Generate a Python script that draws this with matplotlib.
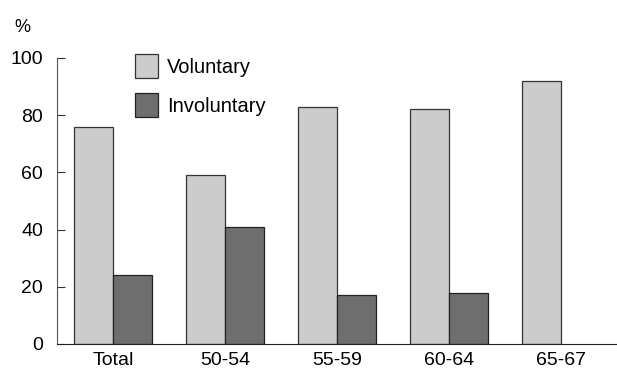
import matplotlib.pyplot as plt
import numpy as np

categories = ["Total", "50-54", "55-59", "60-64", "65-67"]
voluntary = [76, 59, 83, 82, 92]
involuntary = [24, 41, 17, 18, None]

plt.rcParams['font.family'] = ['Liberation Sans', 'DejaVu Sans']

fig = plt.figure(figsize=(6.17, 3.73), dpi=100)
ax = fig.add_axes([57/617, 1-344/373, 1-57/617, (344-58)/373])

x = np.arange(len(categories))
w = 0.35
vol = ax.bar(x - w/2, voluntary, w, color="#cccccc", edgecolor="#333333", linewidth=0.9, label="Voluntary")
inv_x = [xi for xi, v in zip(x, involuntary) if v is not None]
inv_v = [v for v in involuntary if v is not None]
inv = ax.bar(np.array(inv_x) + w/2, inv_v, w, color="#6e6e6e", edgecolor="#222222", linewidth=0.9, label="Involuntary")

ax.set_xlim(-0.5, 4.5)
ax.set_ylim(0, 100)
ax.set_yticks([0, 20, 40, 60, 80, 100])
ax.set_xticks(x)
ax.set_xticklabels(categories)
ax.tick_params(axis='x', length=0, pad=6, labelsize=14)
ax.tick_params(axis='y', length=6, direction='in', labelsize=14, pad=10, color="#333333")
for s in ['top', 'right']:
    ax.spines[s].set_visible(False)
ax.spines['left'].set_color("#555555")
ax.spines['bottom'].set_color("#222222")

fig.text(14/617, 1-27/373, "%", fontsize=13, va='center', ha='left')

fig.legend(handles=[vol, inv], loc='upper left', bbox_to_anchor=(135/617, 1-54/373),
           frameon=False, fontsize=14.5, handlelength=1.14, handleheight=1.45,
           labelspacing=0.75, handletextpad=0.45, borderpad=0, borderaxespad=0)

fig.savefig("out.png", dpi=100)
